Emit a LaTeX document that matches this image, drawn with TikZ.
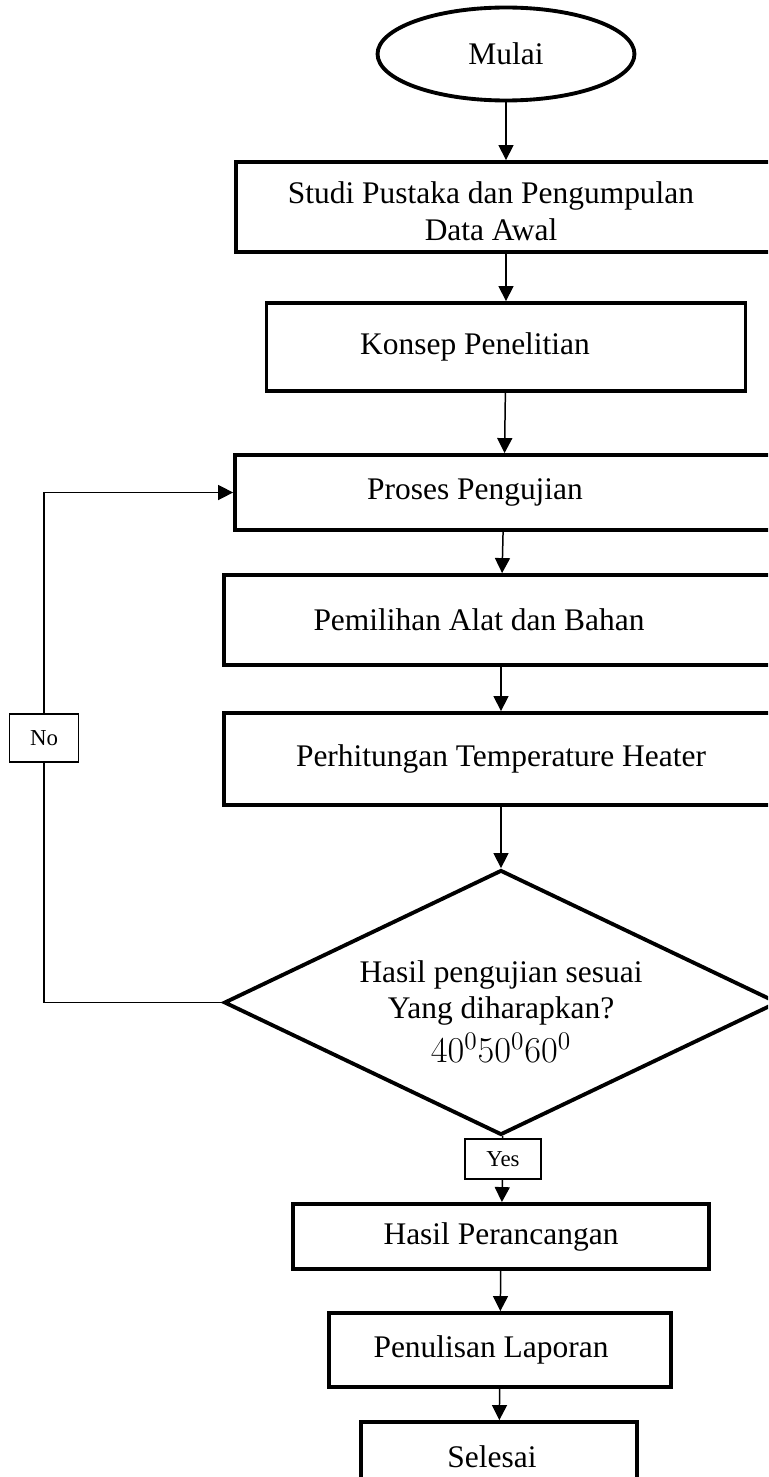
\documentclass[tikz,border=0pt]{standalone}
\usepackage{fontspec}
\setmainfont{Liberation Serif}
\usepackage{tikz}
\usetikzlibrary{arrows.meta, shapes.geometric}

\newcommand{\bigtxt}{\fontsize{17.9}{21}\selectfont}
\newcommand{\tagtxt}{\fontsize{13}{15}\selectfont}

\begin{document}
\begin{tikzpicture}[x=0.02cm, y=-0.02cm,
    term/.style = {draw, ellipse, line width=2.2pt, inner sep=0pt, font=\bigtxt},
    proc/.style = {draw, rectangle, line width=2.2pt, inner sep=0pt, font=\bigtxt},
    cond/.style = {draw, diamond, aspect=2.09, line width=2.2pt, inner sep=0pt, align=center, font=\bigtxt},
    tag/.style = {draw, rectangle, line width=0.6pt, fill=white, inner sep=0pt, font=\tagtxt},
    flow/.style = {line width=0.85pt, -{Triangle[length=0.3cm, width=0.3cm]}}]
		\path[use as bounding box, clip] (0,0) rectangle (768,1477);
		\node[term, minimum width=5.14cm, minimum height=1.86cm] (start) at (506,54) {Mulai};
		\node[proc, minimum width=10.8cm, minimum height=1.8cm, align=center] (studi) at (506,207) {\rule{0pt}{0.6cm}\hspace*{-0.6cm}Studi Pustaka dan Pengumpulan\\\hspace*{-0.6cm}Data Awal};
		\node[proc, minimum width=9.58cm, minimum height=1.76cm] (konsep) at (506,347) {\hspace*{-1.24cm}Konsep Penelitian};
		\node[proc, minimum width=10.76cm, minimum height=1.5cm] (proses) at (504,492.5) {\hspace*{-1.16cm}Proses Pengujian};
		\node[proc, minimum width=11.08cm, minimum height=1.8cm] (pilih) at (501,620) {\hspace*{-0.88cm}Pemilihan Alat dan Bahan};
		\node[proc, minimum width=11.08cm, minimum height=1.84cm] (hitung) at (501,759) {Perhitungan Temperature Heater};
		\node[cond, minimum width=11.08cm, minimum height=5.3cm] (uji) at (501,1002.5) {\rule{0pt}{0.8cm}Hasil pengujian sesuai\\Yang diharapkan?\\[4pt]{\fontsize{22}{21}\selectfont$40^0 50^0 60^0$}};
		\node[tag, minimum width=1.52cm, minimum height=0.8cm] (yes) at (503,1159) {Yes};
		\node[tag, minimum width=1.38cm, minimum height=0.96cm] (no) at (44,738) {No};
		\node[proc, minimum width=8.32cm, minimum height=1.3cm] (hasil) at (501,1236.5) {Hasil Perancangan};
		\node[proc, minimum width=6.84cm, minimum height=1.48cm] (lapor) at (500,1350) {\hspace*{-0.36cm}Penulisan Laporan};
		\node[proc, minimum width=5.52cm, minimum height=1.4cm] (selesai) at (499,1457) {\hspace*{-0.28cm}Selesai};
		\draw[flow] (start) -- (studi);
		\draw[flow] (studi) -- (konsep);
		\draw[flow] (konsep) -- (proses);
		\draw[flow] (proses) -- (pilih);
		\draw[flow] (pilih) -- (hitung);
		\draw[flow] (hitung) -- (uji);
		\draw[line width=0.85pt] (uji) -- (yes);
		\draw[flow] (yes) -- (hasil);
		\draw[flow] (hasil) -- (lapor);
		\draw[flow] (lapor) -- (selesai);
		\draw[line width=0.85pt] (uji.west) -| (no);
		\draw[flow] (no) |- (proses.west);
	\end{tikzpicture}
\end{document}
